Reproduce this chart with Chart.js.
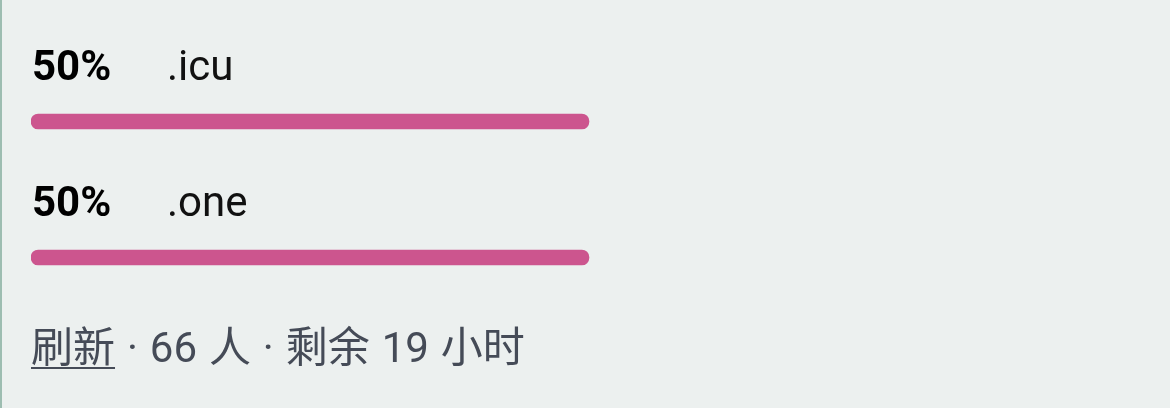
<!DOCTYPE html>
<html>
<head>
<meta charset="utf-8">
<script src="https://cdn.jsdelivr.net/npm/chart.js@4"></script>
<style>
  html, body { margin: 0; padding: 0; }
  body { width: 1170px; height: 408px; background: #ecf0ef; position: relative; overflow: hidden; }
  #edge { position: absolute; left: 0; top: 0; width: 2px; height: 408px; background: #9dbdb1; }
  #wrap { position: absolute; left: 0; top: 0; width: 1170px; height: 408px; }
  #footer { position: absolute; left: 31px; top: 319px; font-family: Roboto, "Noto Sans CJK SC", sans-serif; font-size: 42px; color: #454b57; white-space: pre; line-height: 58px; word-spacing: 1.5px; }
  #footer u { text-decoration-thickness: 2px; text-underline-offset: 5px; }
</style>
</head>
<body>
<div id="edge"></div>
<div id="wrap"><canvas id="c" width="1170" height="408"></canvas></div>
<div id="footer"><u>刷新</u> · 66 人 · 剩余 19 小时</div>
<script>
const categories = ['.icu', '.one'];
const percentages = [50, 50];
const percentLabels = ['50%', '50%'];

const labelPlugin = {
  id: 'pollLabels',
  afterDatasetsDraw(chart) {
    const ctx = chart.ctx;
    const meta = chart.getDatasetMeta(0);
    ctx.save();
    ctx.textBaseline = 'alphabetic';
    meta.data.forEach((bar, i) => {
      const base = bar.y - 42;
      ctx.fillStyle = '#000000';
      ctx.font = 'bold 42px Roboto, "Noto Sans CJK SC", sans-serif';
      ctx.textAlign = 'left';
      ctx.fillText(percentLabels[i], 32, base);
      ctx.font = '42px Roboto, "Noto Sans CJK SC", sans-serif';
      ctx.fillStyle = '#111111';
      ctx.fillText(categories[i], 167, base);
    });
    ctx.restore();
  }
};

new Chart(document.getElementById('c'), {
  type: 'bar',
  data: {
    labels: categories,
    datasets: [{
      data: percentages,
      backgroundColor: '#cc558e',
      borderWidth: 0,
      borderRadius: 8,
      borderSkipped: false,
      barThickness: 15
    }]
  },
  options: {
    indexAxis: 'y',
    responsive: false,
    animation: false,
    events: [],
    layout: { padding: { left: 31, right: 23, top: 53.5, bottom: 82.5 } },
    plugins: { legend: { display: false }, tooltip: { enabled: false } },
    scales: {
      x: { display: false, min: 0, max: 100 },
      y: { display: false }
    }
  },
  plugins: [labelPlugin]
});
</script>
</body>
</html>
